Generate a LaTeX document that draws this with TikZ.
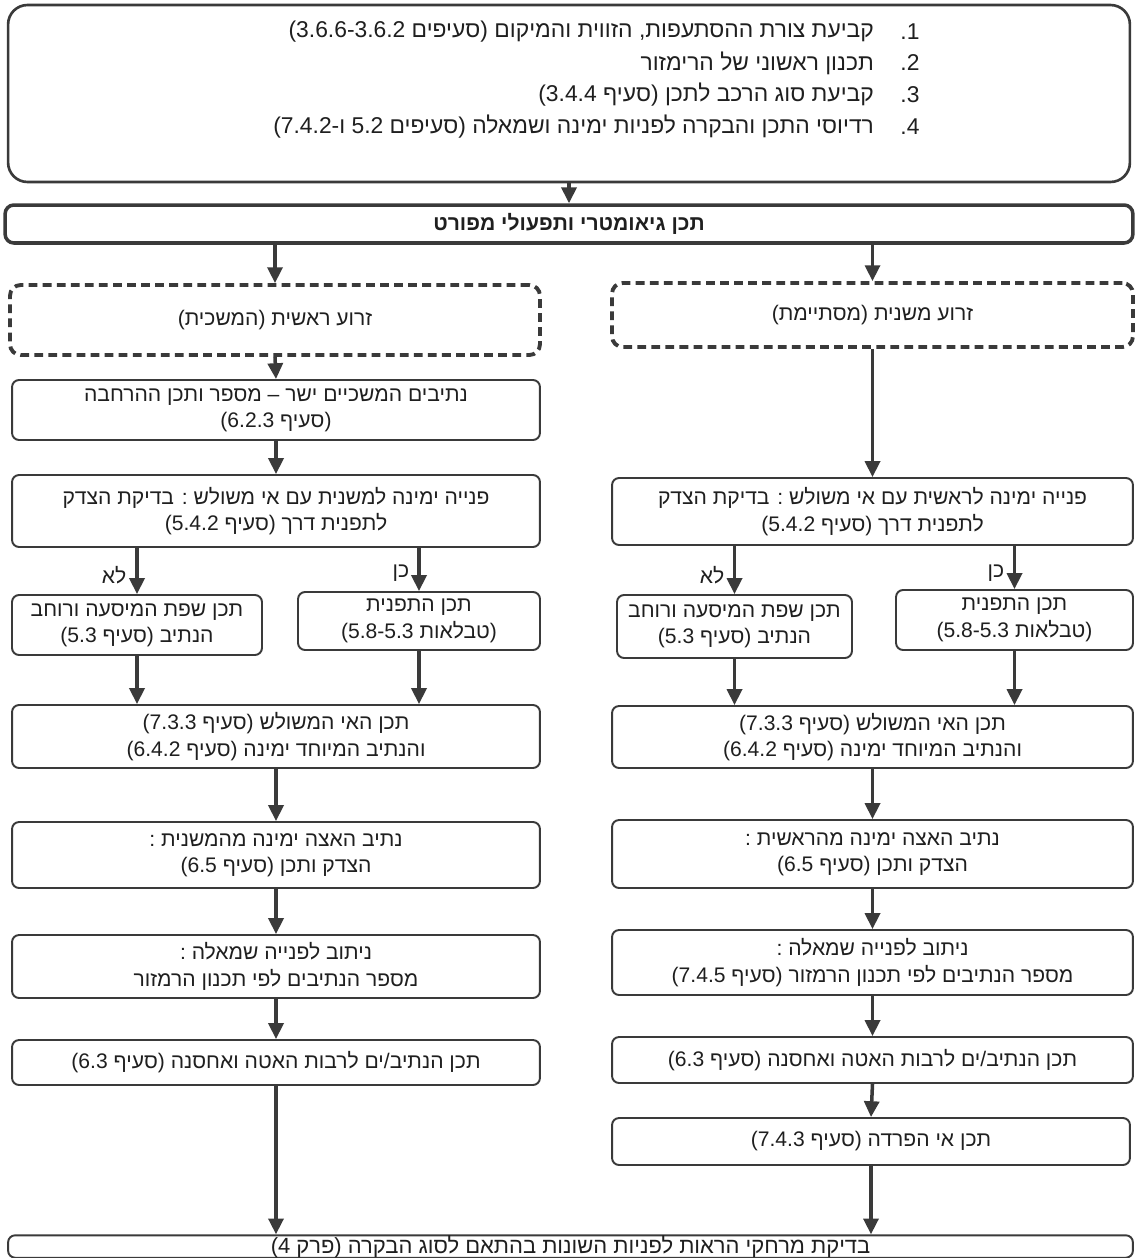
\documentclass[tikz,border=0pt]{standalone}
\usepackage{fontspec}
\newfontfamily\hebfont[Script=Hebrew]{Liberation Sans}
\newfontfamily\latfont{Liberation Sans}
\TeXXeTstate=1
\usetikzlibrary{arrows.meta,positioning}
\definecolor{ink}{HTML}{3A3A3A}
\newcommand{\heb}[1]{\beginR #1\endR}
\newcommand{\lrs}[1]{\beginL{\latfont #1}\endL}

\begin{document}
\begin{tikzpicture}[x=0.02cm,y=-0.02cm,
  every node/.style={font=\hebfont\fontsize{12}{15}\selectfont,text=black!88},
  box/.style={draw=ink,line width=1.1pt,rounded corners=4pt,fill=white,align=center,inner sep=0pt},
  armbox/.style={box,line width=2.2pt,dash pattern=on 5pt off 3pt,rounded corners=6pt},
  colbox/.style={box,minimum width=10.56cm},
  rcolbox/.style={box,minimum width=10.42cm},
  flow/.style={draw=ink,line width=2pt,-{Triangle[length=9pt,width=8.5pt]}}]
\useasboundingbox[fill=white] (0,0) rectangle (1135,1258);
% top list
\node[box,line width=1.5pt,rounded corners=11pt,minimum width=22.44cm,minimum height=3.54cm] (top) at (569,93.5) {};
\foreach \i/\y/\t in {1/32/{קביעת צורת ההסתעפות\lrs{,} הזווית והמיקום \lrs{)}סעיפים \lrs{(3.6.6-3.6.2}},
                      2/63/{תכנון ראשוני של הרימזור},
                      3/95/{קביעת סוג הרכב לתכן \lrs{)}סעיף \lrs{(3.4.4}},
                      4/127/{רדיוסי התכן והבקרה לפניות ימינה ושמאלה \lrs{)}סעיפים \lrs{5.2} ו\lrs{(7.4.2-}}}{
  \node[anchor=east,font=\hebfont\fontsize{13}{16}\selectfont] (item\i) at (880,\y) {\heb{\t}};
  \node[font=\latfont\fontsize{13}{16}\selectfont] (num\i) at (910,\y) {.\i};
}
\node[box,line width=2pt,rounded corners=5pt,minimum width=22.56cm,minimum height=0.76cm,font=\hebfont\bfseries\fontsize{12}{15}\selectfont] (title) at (569,224) {\heb{תכן גיאומטרי ותפעולי מפורט}};
% arms
\node[armbox,minimum width=10.6cm,minimum height=1.4cm] (armA) at (275,320) {\heb{זרוע ראשית \lrs{)}המשכית\lrs{(}}};
\node[armbox,minimum width=10.42cm,minimum height=1.28cm] (armB) at (872.5,315) {\heb{זרוע משנית \lrs{)}מסתיימת\lrs{(}}};
% left column
\node[colbox,minimum height=1.2cm] (a1) at (276,410) {\heb{נתיבים המשכיים ישר \lrs{–} מספר ותכן ההרחבה}\\\heb{\lrs{)}סעיף \lrs{(6.2.3}}};
\node[colbox,minimum height=1.44cm] (a2) at (276,511) {\heb{פנייה ימינה למשנית עם אי משולש \lrs{:} בדיקת הצדק}\\\heb{לתפנית דרך \lrs{)}סעיף \lrs{(5.4.2}}};
\node[box,minimum width=5cm,minimum height=1.2cm] (ano) at (137,625) {\heb{תכן שפת המיסעה ורוחב}\\\heb{הנתיב \lrs{)}סעיף \lrs{(5.3}}};
\node[box,minimum width=4.84cm,minimum height=1.16cm] (ayes) at (419,621) {\heb{תכן התפנית}\\\heb{\lrs{)}טבלאות \lrs{(5.8-5.3}}};
\node[colbox,minimum height=1.26cm] (a3) at (276,736.5) {\heb{תכן האי המשולש \lrs{)}סעיף \lrs{(7.3.3}}\\\heb{והנתיב המיוחד ימינה \lrs{)}סעיף \lrs{(6.4.2}}};
\node[colbox,minimum height=1.32cm] (a4) at (276,855) {\heb{נתיב האצה ימינה מהמשנית \lrs{:}}\\\heb{הצדק ותכן \lrs{)}סעיף \lrs{(6.5}}};
\node[colbox,minimum height=1.26cm] (a5) at (276,966.5) {\heb{ניתוב לפנייה שמאלה \lrs{:}}\\\heb{מספר הנתיבים לפי תכנון הרמזור}};
\node[colbox,minimum height=0.9cm] (a6) at (276,1062.5) {\heb{תכן הנתיב\lrs{/}ים לרבות האטה ואחסנה \lrs{)}סעיף \lrs{(6.3}}};
\node (noA) at (114,575) {\heb{לא}};
\node (yesA) at (401,573) {\heb{כן}};
% right column
\node[rcolbox,minimum height=1.34cm] (b2) at (872.5,511.5) {\heb{פנייה ימינה לראשית עם אי משולש \lrs{:} בדיקת הצדק}\\\heb{לתפנית דרך \lrs{)}סעיף \lrs{(5.4.2}}};
\node[box,minimum width=4.7cm,minimum height=1.26cm] (bno) at (734.5,626.5) {\heb{תכן שפת המיסעה ורוחב}\\\heb{הנתיב \lrs{)}סעיף \lrs{(5.3}}};
\node[box,minimum width=4.74cm,minimum height=1.2cm] (byes) at (1014.5,620) {\heb{תכן התפנית}\\\heb{\lrs{)}טבלאות \lrs{(5.8-5.3}}};
\node[rcolbox,minimum height=1.24cm] (b3) at (872.5,737) {\heb{תכן האי המשולש \lrs{)}סעיף \lrs{(7.3.3}}\\\heb{והנתיב המיוחד ימינה \lrs{)}סעיף \lrs{(6.4.2}}};
\node[rcolbox,minimum height=1.36cm] (b4) at (872.5,854) {\heb{נתיב האצה ימינה מהראשית \lrs{:}}\\\heb{הצדק ותכן \lrs{)}סעיף \lrs{(6.5}}};
\node[rcolbox,minimum height=1.3cm] (b5) at (872.5,962.5) {\heb{ניתוב לפנייה שמאלה \lrs{:}}\\\heb{מספר הנתיבים לפי תכנון הרמזור \lrs{)}סעיף \lrs{(7.4.5}}};
\node[rcolbox,minimum height=0.92cm] (b6) at (872.5,1060) {\heb{תכן הנתיב\lrs{/}ים לרבות האטה ואחסנה \lrs{)}סעיף \lrs{(6.3}}};
\node[box,minimum width=10.36cm,minimum height=0.94cm] (b7) at (871,1141.5) {\heb{תכן אי הפרדה \lrs{)}סעיף \lrs{(7.4.3}}};
\node (noB) at (712,575) {\heb{לא}};
\node (yesB) at (996,573) {\heb{כן}};
% bottom
\node[box,minimum width=22.5cm,minimum height=0.42cm,font=\hebfont\fontsize{12.5}{15}\selectfont] (fin) at (570.5,1246.5) {\heb{בדיקת מרחקי הראות לפניות השונות בהתאם לסוג הבקרה \lrs{)}פרק \lrs{(4}}};
% arrows
\draw[flow] (top.south) -- (title.north);
\draw[flow] (title.south -| armA.north) -- (armA.north);
\draw[flow] (title.south -| armB.north) -- (armB.north);
\draw[flow] (armA.south) -- (a1.north);
\draw[flow] (a1.south) -- (a2.north);
\draw[flow] (a2.south -| ano.north) -- (ano.north);
\draw[flow] (a2.south -| ayes.north) -- (ayes.north);
\draw[flow] (ano.south) -- (ano.south |- a3.north);
\draw[flow] (ayes.south) -- (ayes.south |- a3.north);
\draw[flow] (a3.south) -- (a4.north);
\draw[flow] (a4.south) -- (a5.north);
\draw[flow] (a5.south) -- (a6.north);
\draw[flow] (a6.south) -- (a6.south |- fin.north);
\draw[flow] (armB.south) -- (b2.north);
\draw[flow] (b2.south -| bno.north) -- (bno.north);
\draw[flow] (b2.south -| byes.north) -- (byes.north);
\draw[flow] (bno.south) -- (bno.south |- b3.north);
\draw[flow] (byes.south) -- (byes.south |- b3.north);
\draw[flow] (b3.south) -- (b4.north);
\draw[flow] (b4.south) -- (b5.north);
\draw[flow] (b5.south) -- (b6.north);
\draw[flow] (b6.south) -- (b7.north);
\draw[flow] (b7.south) -- (b7.south |- fin.north);
\end{tikzpicture}
\end{document}
